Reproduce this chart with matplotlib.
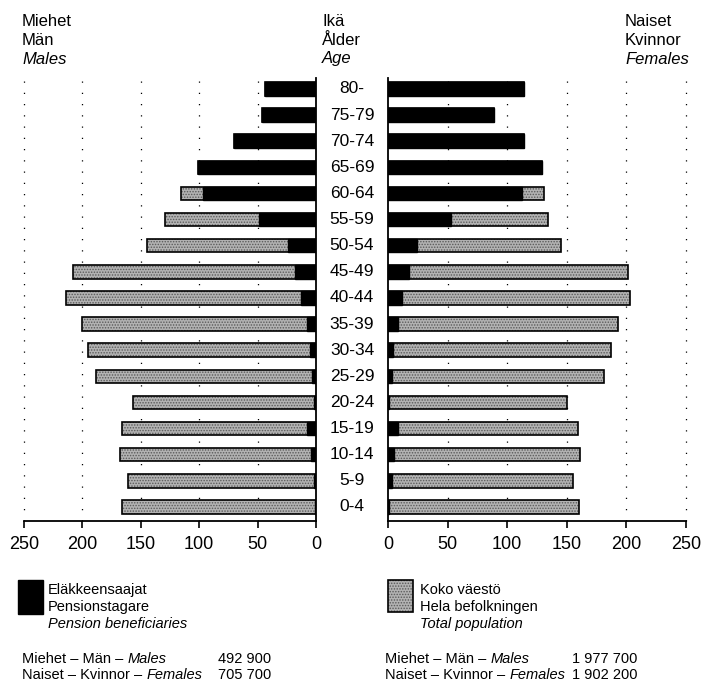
import matplotlib
matplotlib.use("Agg")
import matplotlib.pyplot as plt
import numpy as np

plt.rcParams['font.family'] = ['Liberation Sans', 'DejaVu Sans']
plt.rcParams['hatch.linewidth'] = 0.7

# age groups, youngest first (thousands of persons)
ages = ['0-4', '5-9', '10-14', '15-19', '20-24', '25-29', '30-34', '35-39',
        '40-44', '45-49', '50-54', '55-59', '60-64', '65-69', '70-74', '75-79', '80-']

males_total = [166, 161, 168, 166, 157, 188, 195, 200, 214, 208, 145, 129, 116, 101, 70, 46, 44]
males_pension = [1, 2, 4, 8, 2, 3, 5, 8, 13, 18, 24, 49, 97, 101, 70, 46, 44]
females_total = [160, 155, 161, 159, 150, 181, 187, 193, 203, 201, 145, 134, 131, 129, 114, 89, 114]
females_pension = [1, 3, 5, 8, 1, 3, 4, 8, 12, 18, 24, 53, 112, 129, 114, 89, 114]

ticks = [0, 50, 100, 150, 200, 250]

W, H = 703, 684
fig = plt.figure(figsize=(W / 100, H / 100), dpi=100)

def fx(px):
    return px / W

def fy(py):
    return 1 - py / H

ax_bottom, ax_top = 521, 78
axL = fig.add_axes([fx(24), fy(ax_bottom), fx(316 - 24), (ax_bottom - ax_top) / H])
axR = fig.add_axes([fx(388), fy(ax_bottom), fx(686 - 388), (ax_bottom - ax_top) / H])

y = np.arange(len(ages))
bh = 0.52
gray = '#b2b2b2'
dots = '#5a5a5a'

def draw(ax, total, pension):
    for t in ticks[1:]:
        ax.axvline(t, color='black', lw=0.9, ls=(0, (1, 8)), zorder=0, clip_on=False)
    ax.barh(y, total, height=bh, color=gray, hatch='......', edgecolor=dots, lw=0, zorder=2)
    ax.barh(y, total, height=bh, fill=False, edgecolor='black', lw=1.2, zorder=3)
    ax.barh(y, pension, height=bh, color='black', edgecolor='black', lw=1.0, zorder=4)
    ax.set_ylim(-0.54, 16.42)
    ax.set_yticks([])
    ax.set_xticks(ticks)
    ax.tick_params(axis='x', direction='out', length=5, width=1.2, labelsize=13, pad=6)
    ax.spines['top'].set_visible(False)
    for s in ax.spines.values():
        s.set_linewidth(1.3)

draw(axL, males_total, males_pension)
axL.set_xlim(250, 0)
axL.spines['left'].set_visible(False)

draw(axR, females_total, females_pension)
axR.set_xlim(0, 250)
axR.spines['right'].set_visible(False)

# age labels in the middle
for i, a in enumerate(ages):
    yp = axL.transData.transform((0, i))[1]
    fig.text(fx(352), yp / H, a, ha='center', va='center', fontsize=12.5)

# column headings
hs = 12
def heading(x, lines):
    for k, (txt, it) in enumerate(lines):
        fig.text(fx(x), fy(22 + 18.5 * k), txt, ha='left', va='center', fontsize=hs,
                 style='italic' if it else 'normal')

heading(22, [('Miehet', False), ('Män', False), ('Males', True)])
heading(322, [('Ikä', False), ('Ålder', False), ('Age', True)])
heading(625, [('Naiset', False), ('Kvinnor', False), ('Females', True)])

# legend
ls = 10.5
fig.patches.append(plt.Rectangle((fx(18), fy(614)), fx(25), (614 - 580) / H,
                                 transform=fig.transFigure, facecolor='black', edgecolor='black'))
fig.patches.append(plt.Rectangle((fx(388), fy(612)), fx(25), (612 - 580) / H,
                                 transform=fig.transFigure, facecolor=gray, hatch='......',
                                 edgecolor=dots, lw=0))
fig.patches.append(plt.Rectangle((fx(388), fy(612)), fx(25), (612 - 580) / H,
                                 transform=fig.transFigure, fill=False, edgecolor='black', lw=1.2))

def block(x, lines):
    for k, (txt, it) in enumerate(lines):
        fig.text(fx(x), fy(590 + 17 * k), txt, ha='left', va='center', fontsize=ls,
                 style='italic' if it else 'normal')

block(48, [('Eläkkeensaajat', False), ('Pensionstagare', False), ('Pension beneficiaries', True)])
block(420, [('Koko väestö', False), ('Hela befolkningen', False), ('Total population', True)])

def stats(x, xn, vals):
    rows = [[('Miehet – Män – ', 'normal'), ('Males', 'italic')],
            [('Naiset – Kvinnor – ', 'normal'), ('Females', 'italic')]]
    for k, parts in enumerate(rows):
        yy = fy(659 + 16 * k)
        t = fig.text(fx(x), yy, parts[0][0], ha='left', va='center', fontsize=ls)
        fig.canvas.draw()
        bb = t.get_window_extent()
        fig.text(bb.x1 / W, yy, parts[1][0], ha='left', va='center', fontsize=ls, style='italic')
        fig.text(fx(xn), yy, vals[k], ha='left', va='center', fontsize=ls)

stats(22, 218, ['492 900', '705 700'])
stats(385, 572, ['1 977 700', '1 902 200'])

fig.savefig('out.png', dpi=100)
